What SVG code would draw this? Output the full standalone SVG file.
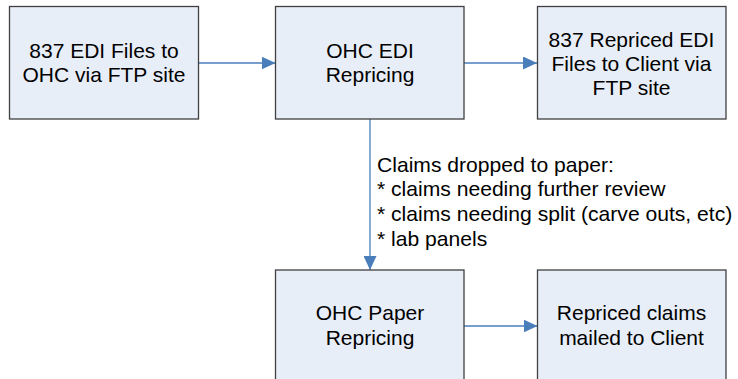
<svg xmlns="http://www.w3.org/2000/svg" width="738" height="379" viewBox="0 0 738 379">
<style>
.box{fill:#E8EEF8;stroke:#404040;stroke-width:1.3}
.t{font-family:"Liberation Sans",Arial,sans-serif;font-size:21px;fill:#000;text-anchor:middle}
.l{font-family:"Liberation Sans",Arial,sans-serif;font-size:21.1px;fill:#000}
.c{fill:none;stroke:#4A7EBB;stroke-width:1.3}
</style>
<defs>
<marker id="ah" viewBox="0 0 14 13" refX="14" refY="6.5" markerWidth="14" markerHeight="13" markerUnits="userSpaceOnUse" orient="auto">
<path d="M0,0 L14,6.5 L0,13 Z" fill="#4A7EBB"/>
</marker>
</defs>
<g id="connectors">
<line class="c" x1="198.5" y1="63" x2="275.5" y2="63" marker-end="url(#ah)"/>
<line class="c" x1="464" y1="63" x2="537" y2="63" marker-end="url(#ah)"/>
<line class="c" x1="370" y1="119" x2="370" y2="270" marker-end="url(#ah)"/>
<line class="c" x1="464" y1="326" x2="537.5" y2="326" marker-end="url(#ah)"/>
<text class="l" x="377" y="171.5">Claims dropped to paper:</text>
<text class="l" x="377" y="196">* claims needing further review</text>
<text class="l" x="377" y="221">* claims needing split (carve outs, etc)</text>
<text class="l" x="377" y="246">* lab panels</text>
</g>
<g id="n1">
<rect class="box" x="9.5" y="6.5" width="189" height="112.5"/>
<text class="t" x="104" y="57.5">837 EDI Files to</text>
<text class="t" x="104" y="81.5">OHC via FTP site</text>
</g>
<g id="n2">
<rect class="box" x="275.5" y="6.5" width="188.5" height="112.5"/>
<text class="t" x="370" y="57.5">OHC EDI</text>
<text class="t" x="370" y="81.5">Repricing</text>
</g>
<g id="n3">
<rect class="box" x="537.5" y="6.5" width="188.5" height="112.5"/>
<text class="t" x="631.5" y="46.5">837 Repriced EDI</text>
<text class="t" x="631.5" y="70.5">Files to Client via</text>
<text class="t" x="631.5" y="94.5">FTP site</text>
</g>
<g id="n4">
<rect class="box" x="275.5" y="270" width="188.5" height="112.5"/>
<text class="t" x="370" y="320">OHC Paper</text>
<text class="t" x="370" y="345">Repricing</text>
</g>
<g id="n5">
<rect class="box" x="537.5" y="270" width="188.5" height="112.5"/>
<text class="t" x="631.5" y="320">Repriced claims</text>
<text class="t" x="631.5" y="345">mailed to Client</text>
</g>
</svg>
